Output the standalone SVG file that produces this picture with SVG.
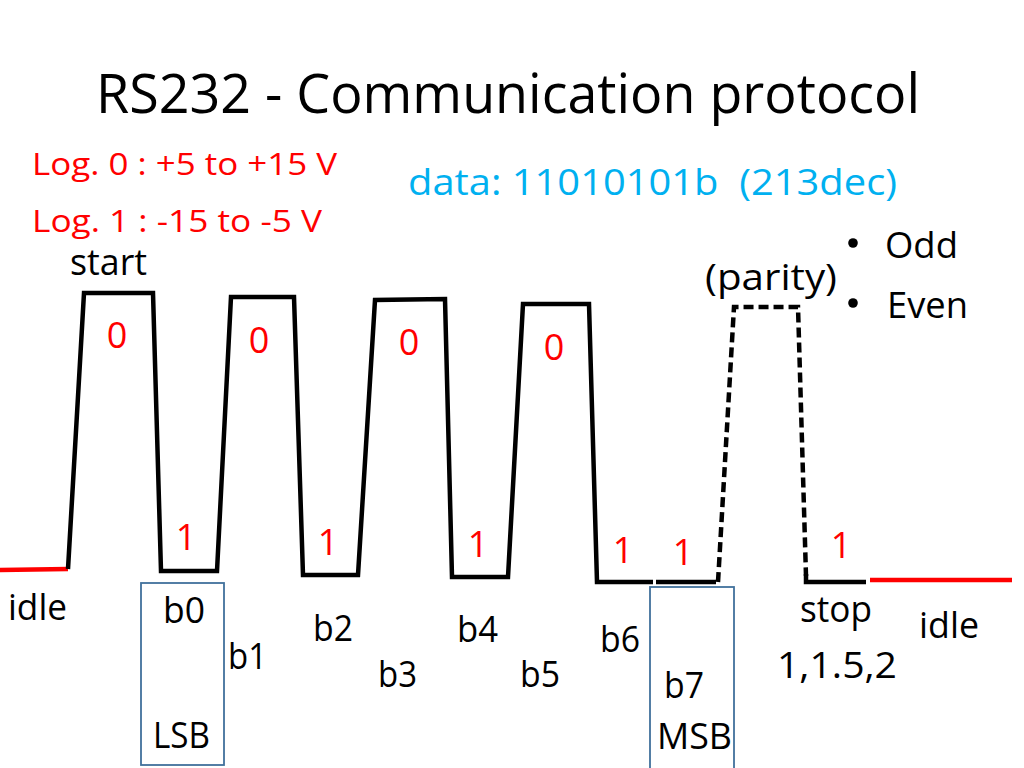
<svg xmlns="http://www.w3.org/2000/svg" width="1024" height="768" viewBox="0 0 1024 768">
  <style>
    text { font-family: "Open Sans", "Liberation Sans", sans-serif; fill: #000; }
    .title { font-size: 54px; }
    .body { font-size: 36px; }
    .bullet { fill: #000; }
    .red { fill: #FF0000; }
    .blue { fill: #00B0F0; }
    .small { font-size: 31px; }
    .digit { font-size: 36px; fill: #FF0000; text-anchor: middle; }
    .wave { fill: none; stroke: #000; stroke-width: 4.5; stroke-linejoin: miter; }
    .dashed { fill: none; stroke: #000; stroke-width: 4.5; stroke-dasharray: 10 5; }
    .idle { fill: none; stroke: #FF0000; stroke-width: 4.5; }
    .box { fill: none; stroke: #41719C; stroke-width: 1.8; }
  </style>
  <rect width="1024" height="768" fill="#FFFFFF"/>

  <g id="title">
    <text class="title" x="96" y="113" textLength="824" lengthAdjust="spacingAndGlyphs">RS232 - Communication protocol</text>
  </g>

  <g id="levels">
    <text class="small red" x="32" y="175" textLength="305" lengthAdjust="spacingAndGlyphs">Log. 0 : +5 to +15 V</text>
    <text class="small red" x="32" y="232" textLength="290" lengthAdjust="spacingAndGlyphs">Log. 1 : -15 to -5 V</text>
  </g>

  <g id="data">
    <text class="body blue" x="408" y="195" textLength="489" lengthAdjust="spacingAndGlyphs" xml:space="preserve">data: 11010101b  (213dec)</text>
  </g>

  <g id="parity-options">
    <text class="body" x="705" y="290" textLength="132" lengthAdjust="spacingAndGlyphs">(parity)</text>
    <circle class="bullet" cx="853" cy="243" r="4.8"/>
    <text class="body" x="885" y="258" textLength="73" lengthAdjust="spacingAndGlyphs">Odd</text>
    <circle class="bullet" cx="853" cy="303" r="4.8"/>
    <text class="body" x="887" y="318" textLength="81" lengthAdjust="spacingAndGlyphs">Even</text>
  </g>

  <g id="connectors">
    <line class="idle" x1="0" y1="570" x2="68" y2="569"/>
    <polyline class="wave" points="68,569 84,293 153,293 161,571 217,571 231,297 294,297 303,575 358,575 375,300 445,299 452,577 508,577 523,304 589,304 597,582 653,582"/>
    <line class="wave" x1="656" y1="582" x2="716" y2="582"/>
    <polyline class="dashed" points="718,582 734,307 798,307 806,576"/>
    <polyline class="wave" points="806,574 806,582 866,582"/>
    <line class="idle" x1="870" y1="580" x2="1012" y2="580"/>
  </g>

  <g id="bit-values">
    <text class="digit" x="117" y="348">0</text>
    <text class="digit" x="259" y="353">0</text>
    <text class="digit" x="409" y="355">0</text>
    <text class="digit" x="554" y="360">0</text>
    <text class="digit" x="186" y="550">1</text>
    <text class="digit" x="328" y="555">1</text>
    <text class="digit" x="478" y="557">1</text>
    <text class="digit" x="623" y="563">1</text>
    <text class="digit" x="683" y="565">1</text>
    <text class="digit" x="841" y="558">1</text>
  </g>

  <g id="start-label">
    <text class="body" x="70" y="275" textLength="77" lengthAdjust="spacingAndGlyphs">start</text>
  </g>

  <g id="lsb-box">
    <rect class="box" x="141" y="583" width="83" height="182"/>
    <text class="body" x="163" y="623" textLength="42" lengthAdjust="spacingAndGlyphs">b0</text>
    <text class="body" x="153" y="748" textLength="57" lengthAdjust="spacingAndGlyphs">LSB</text>
  </g>

  <g id="msb-box">
    <rect class="box" x="650" y="587" width="84" height="200"/>
    <text class="body" x="664" y="698" textLength="40" lengthAdjust="spacingAndGlyphs">b7</text>
    <text class="body" x="657" y="749" textLength="75" lengthAdjust="spacingAndGlyphs">MSB</text>
  </g>

  <g id="bit-labels">
    <text class="body" x="8" y="620" textLength="59" lengthAdjust="spacingAndGlyphs">idle</text>
    <text class="body" x="228" y="669" textLength="39" lengthAdjust="spacingAndGlyphs">b1</text>
    <text class="body" x="313" y="641" textLength="40" lengthAdjust="spacingAndGlyphs">b2</text>
    <text class="body" x="378" y="687" textLength="39" lengthAdjust="spacingAndGlyphs">b3</text>
    <text class="body" x="457" y="642" textLength="41" lengthAdjust="spacingAndGlyphs">b4</text>
    <text class="body" x="520" y="687" textLength="40" lengthAdjust="spacingAndGlyphs">b5</text>
    <text class="body" x="600" y="652" textLength="40" lengthAdjust="spacingAndGlyphs">b6</text>
    <text class="body" x="800" y="622" textLength="72" lengthAdjust="spacingAndGlyphs">stop</text>
    <text class="body" x="777" y="678" textLength="120" lengthAdjust="spacingAndGlyphs">1,1.5,2</text>
    <text class="body" x="919" y="638" textLength="60" lengthAdjust="spacingAndGlyphs">idle</text>
  </g>
</svg>
